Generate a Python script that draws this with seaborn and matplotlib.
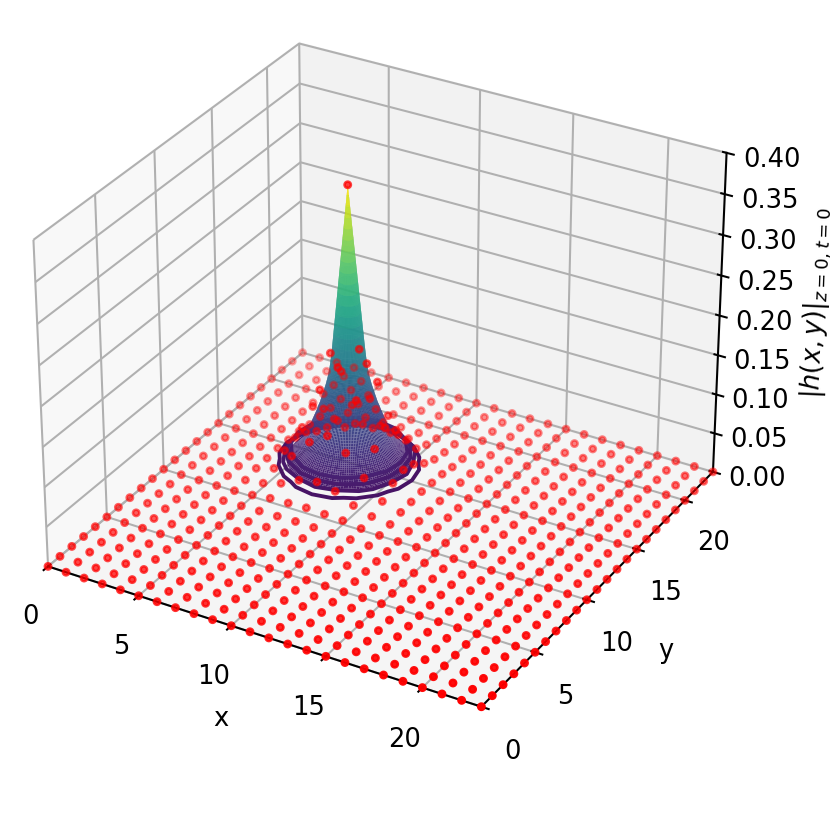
import numpy as np
import matplotlib
matplotlib.use("Agg")
import matplotlib.pyplot as plt
import seaborn as sns

grid_x = list(range(24))
grid_y = list(range(24))
block_x0 = 3
block_y0 = 9
block = [
 [0.0000,0.0000,0.0005,0.0010,0.0015,0.0020,0.0015,0.0010,0.0005,0.0000,0.0000],
 [0.0000,0.0005,0.0020,0.0050,0.0060,0.0070,0.0060,0.0050,0.0020,0.0005,0.0000],
 [0.0005,0.0020,0.0050,0.0120,0.0230,0.0280,0.0230,0.0120,0.0050,0.0020,0.0005],
 [0.0010,0.0050,0.0120,0.0350,0.0600,0.0750,0.0600,0.0350,0.0120,0.0050,0.0010],
 [0.0015,0.0060,0.0230,0.0600,0.1150,0.1500,0.1150,0.0600,0.0230,0.0060,0.0015],
 [0.0020,0.0070,0.0280,0.0750,0.1500,0.3650,0.1500,0.0750,0.0280,0.0070,0.0020],
 [0.0015,0.0060,0.0230,0.0600,0.1150,0.1500,0.1150,0.0600,0.0230,0.0060,0.0015],
 [0.0010,0.0050,0.0120,0.0350,0.0600,0.0750,0.0600,0.0350,0.0120,0.0050,0.0010],
 [0.0005,0.0020,0.0050,0.0120,0.0230,0.0280,0.0230,0.0120,0.0050,0.0020,0.0005],
 [0.0000,0.0005,0.0020,0.0050,0.0060,0.0070,0.0060,0.0050,0.0020,0.0005,0.0000],
 [0.0000,0.0000,0.0005,0.0010,0.0015,0.0020,0.0015,0.0010,0.0005,0.0000,0.0000],
]
peak_x, peak_y = 8, 14
# radial profile of the spike as read from its silhouette, one value every 0.05 grid units
profile_step = 0.05
profile_h = [.365,.352,.339,.326,.313,.300,.287,.274,.261,.248,.235,.222,.209,.196,.183,.170,
             .158,.147,.138,.131,.125,.120,.115,.111,.107,.103,.099,.095,.091,.088,.085,.081,
             .078,.075,.072,.069,.066,.063,.060,.058,.055,.053,.050,.048,.046,.044,.042,.040,
             .038,.037,.035,.034,.032,.031,.029,.028,.027,.025,.024,.023,.022]
contour_levels = [0.018, 0.024, 0.030, 0.036]
ticks_xy = [0,5,10,15,20]
z_ticks = [0.0,0.05,0.10,0.15,0.20,0.25,0.30,0.35,0.40]

cmap = sns.color_palette("viridis", as_cmap=True)
DPI = 185
fig = plt.figure(figsize=(830/DPI,830/DPI), dpi=DPI)
ax = fig.add_axes([-40/830,43.5/830,1.0,1.0], projection="3d")

Z = np.zeros((len(grid_y), len(grid_x)))
b = np.array(block)
Z[block_y0:block_y0+b.shape[0], block_x0:block_x0+b.shape[1]] = b
X, Y = np.meshgrid(grid_x, grid_y)

theta = np.linspace(0, 2*np.pi, 145)
R, T = np.meshgrid(np.arange(len(profile_h))*profile_step, theta)
H = np.tile(profile_h, (len(theta), 1))
ax.plot_surface(peak_x + R*np.cos(T), peak_y + R*np.sin(T), H, cmap=cmap, vmin=0, vmax=0.365,
                rcount=200, ccount=200, linewidth=0)
ax.contour(X, Y, Z, levels=contour_levels, cmap=cmap, vmin=0, vmax=0.365, linewidths=1.5)
ax.scatter(X.ravel(), Y.ravel(), Z.ravel(), c="red", s=6)

ax.set_xlim(0,23); ax.set_ylim(0,23); ax.set_zlim(0,0.4)
ax.set_xticks(ticks_xy); ax.set_yticks(ticks_xy); ax.set_zticks(z_ticks)
ax.set_xlabel("x"); ax.set_ylabel("y"); ax.set_zlabel(r"$|h(x,y)|_{z=0,t=0}$")
ax.set_box_aspect(None, zoom=0.93)
fig.savefig("out.png", dpi=DPI)
